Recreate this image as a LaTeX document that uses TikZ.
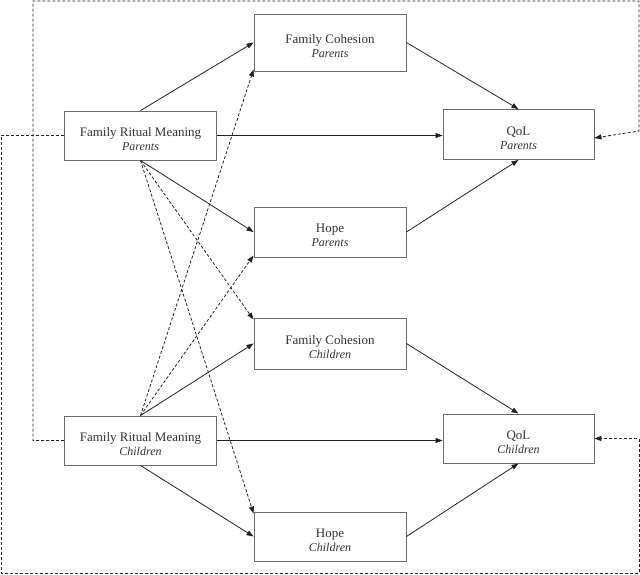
\documentclass[tikz,border=0pt]{standalone}
\usepackage{fontspec}
\setmainfont{Liberation Serif}
\usetikzlibrary{arrows.meta}
\definecolor{boxline}{HTML}{6A6A6A}
\definecolor{inkline}{HTML}{222222}
\definecolor{txt}{HTML}{333333}
\tikzset{
  varbox/.style={draw=boxline, line width=0.9pt, minimum width=152pt, inner sep=0pt, align=center, text=txt, font=\fontsize{13}{15}\selectfont},
  link/.style={draw=inkline, line width=0.8pt, -{Triangle[length=7pt,width=5pt]}},
  dlink/.style={link, dash pattern=on 3pt off 2pt},
  fb/.style={draw=inkline, line width=0.8pt, dash pattern=on 3pt off 2pt},
}
\newcommand{\sub}[1]{\\[-1pt]{\fontsize{12}{14}\selectfont\itshape #1}}
\newcommand{\tstrut}{\rule{0pt}{16pt}}
\begin{document}
\begin{tikzpicture}[x=1pt,y=-1pt]
\useasboundingbox (0,0) rectangle (640,574);
\node[varbox, minimum height=49pt] (frmP) at (140.5,135.5) {\tstrut Family Ritual Meaning\sub{Parents}};
\node[varbox, minimum height=49pt] (frmC) at (140.5,440.5) {\tstrut Family Ritual Meaning\sub{Children}};
\node[varbox, minimum height=57pt] (fcP) at (330,42.5) {\tstrut Family Cohesion\sub{Parents}};
\node[varbox, minimum height=50pt] (hopeP) at (330,232) {\tstrut Hope\sub{Parents}};
\node[varbox, minimum height=51pt] (fcC) at (330,343.5) {\tstrut Family Cohesion\sub{Children}};
\node[varbox, minimum height=49pt] (hopeC) at (330,536.5) {\tstrut Hope\sub{Children}};
\node[varbox, minimum height=50pt, minimum width=151pt] (qolP) at (518.5,134.5) {\tstrut QoL\sub{Parents}};
\node[varbox, minimum height=49pt, minimum width=151pt] (qolC) at (518.5,438.5) {\tstrut QoL\sub{Children}};
% solid paths
\draw[link] (frmP.north) -- (fcP.west);
\draw[link] (frmP.east) -- (qolP.west |- frmP.east);
\draw[link] (frmP.south) -- (hopeP.west);
\draw[link] (frmC.north) -- (fcC.west);
\draw[link] (frmC.east) -- (qolC.west |- frmC.east);
\draw[link] (frmC.south) -- (hopeC.west);
\draw[link] (fcP.east) -- (qolP.north);
\draw[link] (hopeP.east) -- (qolP.south);
\draw[link] (fcC.east) -- (qolC.north);
\draw[link] (hopeC.east) -- (qolC.south);
% dashed cross paths
\draw[dlink] (frmP.south) -- ([yshift=-2pt]fcC.north west);
\draw[dlink] (frmP.south) -- ([yshift=-2pt]hopeC.north west);
\draw[dlink] (frmC.north) -- ([yshift=2pt]fcP.south west);
\draw[dlink] (frmC.north) -- ([yshift=2pt]hopeP.south west);
% feedback dashed loops
\coordinate (a1) at (1,135.5);
\coordinate (a2) at (1,573);
\coordinate (a3) at (639,573);
\coordinate (a4) at (639,438.5);
\draw[fb, -{Triangle[length=7pt,width=5pt]}] (frmP.west) -- (a1) -- (a2) -- (a3) -- (a4) -- (qolC.east);
\coordinate (b1) at (33,440.5);
\coordinate (b2) at (33,1);
\coordinate (b3) at (639,1);
\coordinate (b4) at (639,131);
\draw[fb, -{Triangle[length=7pt,width=5pt]}] (frmC.west) -- (b1) -- (b2) -- (b3) -- (b4) -- ([yshift=-3.5pt]qolP.east);
\end{tikzpicture}
\end{document}
